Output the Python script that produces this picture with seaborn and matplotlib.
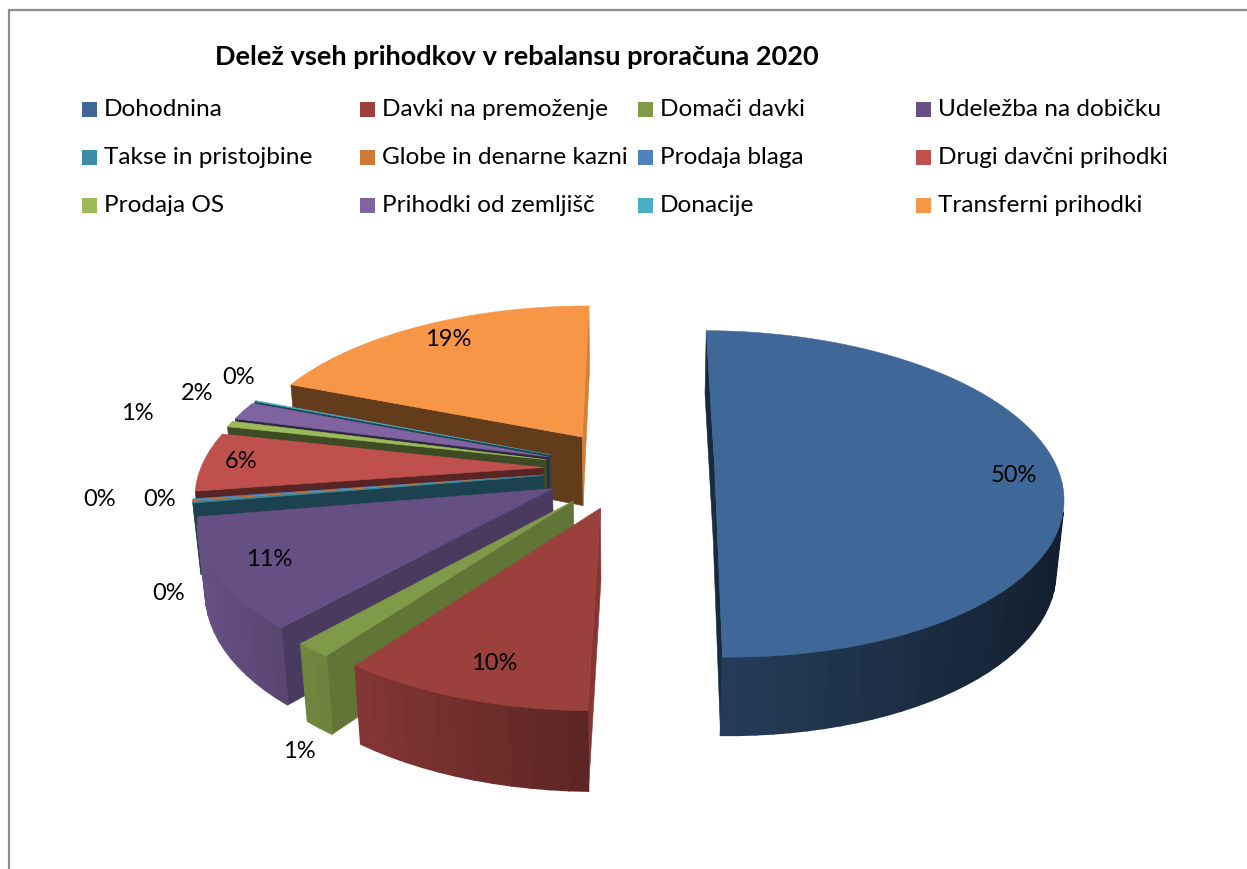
import numpy as np
import matplotlib
matplotlib.use("Agg")
import matplotlib.pyplot as plt
from matplotlib.patches import Polygon, Rectangle
import seaborn as sns

# =====================
# DATA
# =====================
title = "Delež vseh prihodkov v rebalansu proračuna 2020"
categories = [
    "Dohodnina", "Davki na premoženje", "Domači davki", "Udeležba na dobičku",
    "Takse in pristojbine", "Globe in denarne kazni", "Prodaja blaga", "Drugi davčni prihodki",
    "Prodaja OS", "Prihodki od zemljišč", "Donacije", "Transferni prihodki",
]
shares = [50.15, 9.84, 1.45, 10.76, 0.15, 0.1, 0.1, 5.8, 0.6, 1.8, 0.1, 19.05]
share_labels = ["50%", "10%", "1%", "11%", "0%", "0%", "0%", "6%", "1%", "2%", "0%", "19%"]
hex_colors = [
    "#3F6899", "#9C403D", "#7F9A48", "#664F82", "#3B8CA6", "#CE7A36",
    "#4F81BD", "#C0504D", "#9BBB59", "#8064A2", "#4BACC6", "#F79646",
]

# =====================
# LAYOUT (pixels, y down)
# =====================
label_xy = [(1014, 474), (494, 663), (299, 751), (269, 559), (169, 592), (160, 499),
            (100, 499), (241, 461), (137, 413), (197, 393), (239, 377), (448, 338)]
CX, CY, SCALE = 629, 469, 343
ELEV = np.radians(27.7)
DIST = 5.93
HEIGHT = 0.235
EXPLODE = 0.25
ROTATE = 0.5

sns.set_theme(style="white")
plt.rcParams["font.family"] = ["Lato", "DejaVu Sans"]
palette = sns.color_palette(hex_colors)


def project(x, y, z):
    d = DIST + y * np.cos(ELEV) - z * np.sin(ELEV)
    s = DIST / d
    return CX + SCALE * x * s, CY - SCALE * (y * np.sin(ELEV) + z * np.cos(ELEV)) * s


def shade(color, factor):
    return tuple(min(1, c * factor) for c in color)


def faces_camera(nx, ny, px, py):
    return nx * -px + ny * (-DIST * np.cos(ELEV) - py) > 0


def draw_face(ax, pts, color, z, lw=0.4):
    xs, ys = project(*np.array(pts).T)
    ax.add_patch(Polygon(np.column_stack([xs, ys]), closed=True, facecolor=color,
                         edgecolor=color, linewidth=lw, zorder=z))


def draw_slice(ax, a0, a1, color, z):
    mid = (a0 + a1) / 2
    ox, oy = EXPLODE * np.sin(mid), EXPLODE * np.cos(mid)
    n = max(3, int(np.degrees(a1 - a0) / 2.5))
    th = np.linspace(a0, a1, n)
    rx, ry = ox + np.sin(th), oy + np.cos(th)

    # cut faces
    for a, nx, ny in [(a0, -np.cos(a0), np.sin(a0)), (a1, np.cos(a1), -np.sin(a1))]:
        ex, ey = ox + np.sin(a), oy + np.cos(a)
        if faces_camera(nx, ny, (ox + ex) / 2, (oy + ey) / 2):
            draw_face(ax, [(ox, oy, 0), (ex, ey, 0), (ex, ey, -HEIGHT), (ox, oy, -HEIGHT)],
                      shade(color, 0.4 + 0.45 * max(nx, 0)), z)

    # outer rim, lighter towards the left
    for i in range(n - 1):
        tm = (th[i] + th[i + 1]) / 2
        nx, ny = np.sin(tm), np.cos(tm)
        if not faces_camera(nx, ny, ox + nx, oy + ny):
            continue
        f = 0.58 - 0.45 * nx if nx < 0 else 0.58 - 0.3 * nx
        draw_face(ax, [(rx[i], ry[i], 0), (rx[i + 1], ry[i + 1], 0),
                       (rx[i + 1], ry[i + 1], -HEIGHT), (rx[i], ry[i], -HEIGHT)],
                  shade(color, f), z + 0.1, lw=1.2)

    # top
    draw_face(ax, [(ox, oy, 0)] + [(x, y, 0) for x, y in zip(rx, ry)], color, z + 0.2)


fig = plt.figure(figsize=(12.47, 8.69), dpi=100)
ax = fig.add_axes([0, 0, 1, 1])
ax.set_xlim(0, 1247)
ax.set_ylim(869, 0)
ax.axis("off")

# chart frame
ax.plot([9, 9, 1247], [869, 10, 10], color="#8C8C8C", lw=1.6, solid_joinstyle="miter")

# pie, back to front
edges = np.radians(np.concatenate([[0], np.cumsum(shares)]) * 3.6 + ROTATE)
mids = (edges[:-1] + edges[1:]) / 2
for rank, i in enumerate(np.argsort(-np.cos(mids))):
    draw_slice(ax, edges[i], edges[i + 1], palette[i], 2 + rank)

for lab, (x, y) in zip(share_labels, label_xy):
    ax.text(x, y + 1, lab, ha="center", va="center", fontsize=17, color="black", zorder=50)

ax.text(517, 57, title, ha="center", va="center", fontsize=19.5, fontweight="bold", color="black")

# legend, 4 equal columns
for i, name in enumerate(categories):
    col, row = i % 4, i // 4
    x = 82 + col * 278
    y = 109 + row * 48
    ax.add_patch(Rectangle((x, y - 7.5), 15, 15, facecolor=palette[i], edgecolor="none"))
    ax.text(x + 22, y + 1, name, ha="left", va="center", fontsize=17.6, color="black")

fig.savefig("out.png", dpi=100)
